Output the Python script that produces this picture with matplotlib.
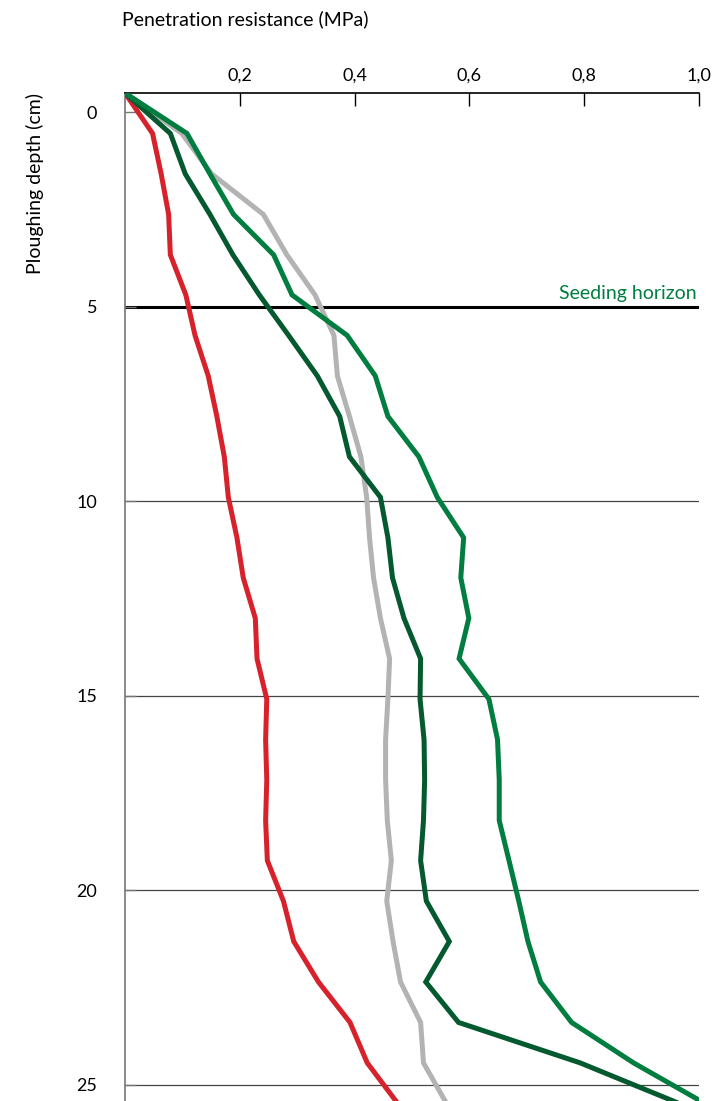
import matplotlib
matplotlib.use("Agg")
import matplotlib.pyplot as plt

plt.rcParams['font.family'] = ['Lato', 'DejaVu Sans']

# Depth (cm) of each measurement vertex
depth = [-0.49, 0.55, 1.59, 2.63, 3.67, 4.70, 5.74, 6.78, 7.82, 8.86, 9.90,
         10.94, 11.97, 13.01, 14.05, 15.09, 16.13, 17.17, 18.21, 19.24, 20.28,
         21.32, 22.36, 23.40, 24.44, 25.48]

# Penetration resistance (MPa)
red = [0, 0.048, 0.063, 0.076, 0.079, 0.106, 0.122, 0.145, 0.160, 0.173, 0.180,
       0.195, 0.206, 0.227, 0.230, 0.247, 0.245, 0.247, 0.245, 0.248, 0.276,
       0.294, 0.337, 0.392, 0.422, 0.475]
gray = [0, 0.099, 0.151, 0.241, 0.282, 0.331, 0.364, 0.370, 0.391, 0.411, 0.421,
        0.426, 0.433, 0.445, 0.461, 0.458, 0.454, 0.454, 0.457, 0.464, 0.456,
        0.467, 0.480, 0.515, 0.520, 0.560]
dkgreen = [0, 0.079, 0.105, 0.148, 0.188, 0.234, 0.285, 0.335, 0.374, 0.391, 0.445,
           0.458, 0.466, 0.486, 0.515, 0.514, 0.521, 0.522, 0.520, 0.515, 0.525,
           0.565, 0.524, 0.581, 0.793, 0.965]
green = [0, 0.108, 0.148, 0.189, 0.259, 0.291, 0.387, 0.436, 0.458, 0.512, 0.544,
         0.590, 0.585, 0.599, 0.582, 0.634, 0.649, 0.652, 0.652, 0.669, 0.686,
         0.702, 0.724, 0.778, 0.886, 1.010]

xticks = [0.2, 0.4, 0.6, 0.8, 1.0]
xticklabels = ['0,2', '0,4', '0,6', '0,8', '1,0']
yticks = [0, 5, 10, 15, 20, 25]
grid_depths = [10, 15, 20, 25]
seeding_depth = 5

fig = plt.figure(figsize=(7.2, 11.01), dpi=100)
W, H = 720, 1101
ax = fig.add_axes([125 / W, 0, (699 - 125) / W, (H - 93) / H])
ax.set_xlim(0, 1.0)
ax.set_ylim(25.42, -0.49)

for d in grid_depths:
    ax.axhline(d, color='#444444', lw=0.9, zorder=1)
ax.axhline(seeding_depth, color='black', lw=2.2, zorder=1)

lw = 3.6
ax.plot(gray, depth, color='#b3b3b3', lw=lw, zorder=2, solid_joinstyle='miter')
ax.plot(red, depth, color='#d7212b', lw=lw, zorder=3, solid_joinstyle='miter')
ax.plot(dkgreen, depth, color='#04592f', lw=lw, zorder=4, solid_joinstyle='miter')
ax.plot(green, depth, color='#027d40', lw=lw, zorder=5, solid_joinstyle='miter')

ax.text(0.995, seeding_depth - 0.12, 'Seeding horizon', color='#027d40',
        fontsize=14, ha='right', va='bottom')

for s in ['bottom', 'right']:
    ax.spines[s].set_visible(False)
ax.spines['top'].set_color('black')
ax.spines['top'].set_linewidth(1.2)
ax.spines['left'].set_color('#777777')
ax.spines['left'].set_linewidth(1.2)

ax.xaxis.tick_top()
ax.set_xticks(xticks)
ax.set_xticklabels(xticklabels)
ax.tick_params(axis='x', direction='in', length=9, width=1, color='black',
               labelsize=13, pad=7)
ax.set_yticks(yticks)
ax.set_yticklabels([str(v) for v in yticks])
ax.tick_params(axis='y', direction='in', length=8, width=1, color='#777777',
               labelsize=13, pad=20)

fig.text(122 / W, 1 - 19 / H, 'Penetration resistance (MPa)', fontsize=14,
         ha='left', va='center')
fig.text(35 / W, 1 - 184 / H, 'Ploughing depth (cm)', fontsize=14,
         ha='center', va='center', rotation=90)

fig.savefig('out.png', dpi=100)
